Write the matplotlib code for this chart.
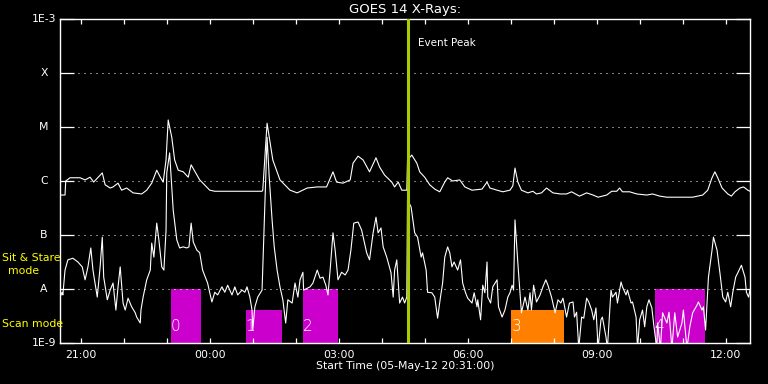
import numpy as np
import matplotlib
matplotlib.use('Agg')
import matplotlib.pyplot as plt
import matplotlib.dates as mdates
from matplotlib.ticker import NullLocator, NullFormatter

# start of the plotted window
start = np.datetime64('2012-05-05T20:31')
end_minutes = 963

# GOES long channel (1-8 A): minutes after start, log10 flux
long_min = [0, 7, 8, 14, 28, 35, 42, 47, 59, 63, 70, 74, 81, 86, 93, 102, 114, 121,
            128, 135, 140, 144, 148, 151, 156, 160, 165, 172, 179, 183, 195, 209, 216,
            251, 282, 283, 289, 297, 307, 321, 331, 345, 359, 372, 381, 386, 395, 405,
            409, 416, 423, 432, 441, 446, 453, 463, 467, 472, 477, 484, 485, 491, 498,
            502, 509, 516, 523, 530, 537, 541, 548, 558, 565, 575, 589, 596, 600, 610,
            618, 628, 632, 635, 639, 644, 653, 660, 665, 672, 679, 688, 698, 707, 714,
            725, 735, 744, 751, 763, 770, 777, 781, 785, 795, 805, 819, 827, 837, 847,
            861, 883, 897, 904, 910, 914, 918, 924, 932, 937, 942, 949, 954, 960, 963]
long_log = [-6.26, -6.26, -6.00, -5.94, -5.94, -5.98, -5.93, -6.02, -5.85, -6.07, -6.13,
            -6.11, -6.04, -6.17, -6.13, -6.22, -6.24, -6.17, -6.04, -5.80, -5.93, -6.02,
            -5.61, -4.87, -5.19, -5.61, -5.80, -5.83, -5.93, -5.70, -5.98, -6.17, -6.19,
            -6.19, -6.19, -6.17, -4.93, -5.61, -5.98, -6.17, -6.22, -6.13, -6.11, -6.11,
            -5.83, -6.02, -6.04, -5.98, -5.67, -5.54, -5.61, -5.83, -5.57, -5.74, -5.89,
            -6.02, -6.11, -6.02, -6.17, -6.17, -5.61, -5.52, -5.67, -5.83, -5.93, -6.07,
            -6.15, -6.20, -6.02, -5.94, -6.00, -5.98, -6.11, -6.17, -6.15, -6.02, -6.13,
            -6.17, -6.20, -6.17, -6.09, -5.76, -6.02, -6.17, -6.22, -6.19, -6.24, -6.22,
            -6.13, -6.22, -6.24, -6.24, -6.20, -6.28, -6.22, -6.26, -6.30, -6.26, -6.19,
            -6.19, -6.13, -6.20, -6.20, -6.24, -6.26, -6.24, -6.28, -6.30, -6.30, -6.30,
            -6.26, -6.17, -5.94, -5.83, -5.94, -6.13, -6.24, -6.28, -6.20, -6.13, -6.11,
            -6.17, -6.19]

# GOES short channel (0.5-4 A): minutes after start, log10 flux
short_min = [0, 3, 4, 7, 11, 18, 25, 31, 35, 39, 43, 46, 52, 56, 59, 61, 66, 70, 74, 78,
             81, 84, 88, 91, 95, 100, 105, 107, 112, 113, 116, 121, 126, 128, 131, 135,
             138, 142, 145, 148, 149, 153, 158, 163, 167, 172, 177, 180, 183, 186, 191,
             195, 199, 206, 209, 212, 216, 220, 226, 230, 234, 240, 244, 248, 254, 258,
             261, 265, 268, 269, 272, 276, 282, 285, 289, 292, 296, 299, 303, 307, 311,
             315, 318, 324, 328, 332, 335, 339, 340, 349, 353, 359, 363, 367, 371, 374,
             377, 381, 384, 388, 393, 398, 402, 406, 410, 416, 421, 425, 428, 432, 437,
             441, 444, 448, 451, 456, 462, 465, 467, 470, 474, 478, 481, 484, 485, 490,
             495, 499, 504, 506, 511, 513, 519, 523, 527, 531, 534, 537, 541, 544, 547,
             550, 555, 559, 562, 566, 569, 575, 578, 582, 583, 587, 590, 593, 596, 597,
             601, 604, 610, 612, 617, 621, 625, 628, 631, 633, 635, 639, 642, 644, 649,
             653, 656, 658, 661, 665, 670, 674, 678, 681, 686, 691, 695, 699, 702, 707,
             711, 716, 718, 721, 724, 728, 731, 735, 738, 742, 745, 748, 751, 755, 757,
             762, 764, 769, 771, 776, 778, 783, 785, 790, 792, 797, 799, 804, 806, 809,
             813, 816, 819, 822, 826, 829, 833, 834, 838, 841, 847, 850, 854, 858, 862,
             868, 870, 875, 879, 883, 889, 891, 896, 898, 901, 903, 905, 910, 912, 917,
             921, 925, 929, 932, 936, 939, 943, 946, 951, 956, 958, 961, 963]
short_log = [-8.15, -8.06, -8.11, -7.65, -7.46, -7.43, -7.50, -7.59, -7.83, -7.59, -7.24,
             -7.65, -8.15, -7.59, -7.04, -7.78, -8.20, -8.02, -7.89, -8.39, -7.96, -7.59,
             -8.26, -8.39, -8.17, -8.33, -8.44, -8.52, -8.63, -8.39, -8.15, -7.83, -7.65,
             -7.15, -7.41, -6.78, -7.09, -7.59, -7.65, -6.91, -5.85, -5.48, -6.54, -7.09,
             -7.24, -7.22, -7.24, -7.22, -6.78, -7.13, -7.28, -7.33, -7.65, -7.89, -8.07,
             -8.24, -8.06, -8.11, -7.96, -8.06, -7.93, -8.11, -7.96, -8.11, -8.02, -8.06,
             -7.96, -8.15, -8.39, -8.76, -8.33, -8.15, -8.02, -6.78, -5.19, -5.93, -6.72,
             -7.22, -7.65, -7.96, -8.20, -8.63, -8.20, -8.26, -7.89, -8.15, -7.83, -7.69,
             -8.02, -7.96, -7.89, -7.65, -7.80, -7.78, -7.93, -8.11, -7.65, -6.96, -7.28,
             -7.83, -7.69, -7.74, -7.65, -7.28, -6.78, -6.76, -6.91, -7.15, -7.33, -7.46,
             -6.96, -6.67, -6.96, -6.87, -7.22, -7.41, -7.70, -8.15, -7.65, -7.46, -8.26,
             -8.15, -8.26, -8.15, -6.35, -6.48, -6.96, -7.04, -7.41, -7.33, -7.65, -8.06,
             -8.07, -8.15, -8.54, -8.15, -7.89, -7.41, -7.22, -7.33, -7.59, -7.50, -7.65,
             -7.46, -7.89, -8.07, -8.17, -8.26, -8.07, -8.33, -8.20, -8.57, -7.93, -8.07,
             -7.50, -8.15, -8.26, -7.96, -7.83, -8.33, -8.52, -8.39, -8.15, -8.07, -7.93,
             -8.02, -6.72, -7.52, -8.07, -8.44, -8.15, -8.39, -8.07, -8.39, -7.93, -8.24,
             -8.11, -7.96, -7.83, -7.93, -8.15, -8.44, -8.20, -8.26, -8.17, -8.52, -8.26,
             -8.24, -8.52, -8.43, -9.10, -8.52, -8.54, -8.17, -8.24, -8.39, -8.57, -8.35,
             -9.10, -8.57, -8.52, -8.89, -9.10, -8.02, -8.15, -8.06, -8.26, -7.87, -7.96,
             -8.11, -8.02, -8.26, -8.24, -8.52, -9.10, -8.57, -8.39, -8.70, -8.33, -8.20,
             -8.35, -8.70, -9.10, -8.63, -9.10, -8.44, -8.63, -8.43, -9.10, -8.44, -8.89,
             -8.63, -8.39, -9.10, -8.70, -8.44, -8.30, -8.24, -8.39, -8.33, -8.76, -8.26,
             -7.78, -7.28, -7.04, -7.28, -7.70, -8.15, -8.24, -8.06, -8.33, -8.06, -7.78,
             -7.70, -7.56, -7.78, -8.06, -8.15, -8.02]

# observation boxes: start/end minutes after start, top flux, colour, label
box_start = [155, 259, 339, 630, 830]
box_end = [197, 310, 388, 703, 900]
box_top = [1e-8, 10**-8.39, 1e-8, 10**-8.39, 1e-8]
box_color = ['#cc00cc', '#cc00cc', '#cc00cc', '#ff8000', '#cc00cc']
box_label = ['0', '1', '2', '3', '4']

event_peak_min = 486

level_vals = [1e-3, 1e-4, 1e-5, 1e-6, 1e-7, 1e-8, 1e-9]
level_labels = ['1E-3', 'X', 'M', 'C', 'B', 'A', '1E-9']


def to_time(minutes):
    return start + np.array(minutes, dtype='timedelta64[m]')


W, H = 768, 384
fig = plt.figure(figsize=(W / 100, H / 100), dpi=100, facecolor='black')
ax = fig.add_axes([60 / W, (H - 343) / H, 690 / W, 324 / H], facecolor='black')

# boxes behind the curves
for s, e, top, c, lab in zip(box_start, box_end, box_top, box_color, box_label):
    t0, t1 = to_time([s, e])
    ax.fill_between([t0, t1], [1e-9, 1e-9], [top, top], color=c, lw=0, zorder=1)
    ax.text(t0, 1.45e-9, lab, color='white', fontsize=11, ha='left',
            va='bottom', zorder=4, fontweight='light')

# dotted level lines
for v in level_vals[1:-1]:
    ax.axhline(v, color='white', lw=0.72, ls=(0, (1, 5)), zorder=2)

ax.plot(to_time(long_min), 10 ** np.array(long_log), color='white', lw=0.8,
        zorder=3)
ax.plot(to_time(short_min), 10 ** np.array(short_log), color='white', lw=0.8,
        zorder=3)

tp = to_time([event_peak_min])[0]
ax.axvline(tp, color='#a8cc00', lw=2.2, zorder=5)
ax.text(to_time([499])[0], 10 ** -3.44, 'Event Peak', color='white',
        fontsize=7.5, ha='left', va='center')

ax.set_yscale('log')
ax.set_ylim(1e-9, 1e-3)
ax.set_xlim(to_time([0])[0], to_time([end_minutes])[0])

ax.set_yticks(level_vals)
ax.yaxis.set_minor_locator(NullLocator())
ax.yaxis.set_major_formatter(NullFormatter())
ax.yaxis.set_minor_formatter(NullFormatter())
ax.tick_params(axis='y', which='major', direction='in', length=10, width=0.9,
               color='white', left=True, right=True)
for v, lab in zip(level_vals, level_labels):
    ax.text(-16 / 690, v, lab, transform=ax.get_yaxis_transform(), color='white',
            fontsize=7.8, ha='center', va='center')

ax.xaxis.set_major_locator(mdates.HourLocator(byhour=[0, 3, 6, 9, 12, 15, 18, 21]))
ax.xaxis.set_minor_locator(mdates.HourLocator())
ax.xaxis.set_major_formatter(mdates.DateFormatter('%H:%M'))
ax.tick_params(axis='x', which='both', direction='in', length=3.6, width=0.9,
               color='white', top=True, bottom=True, labelcolor='white',
               labelsize=7.8, pad=5)

for sp in ax.spines.values():
    sp.set_color('white')
    sp.set_linewidth(1.0)

ax.set_title('GOES 14 X-Rays:', color='white', fontsize=9.5, pad=4)
ax.set_xlabel('Start Time (05-May-12 20:31:00)', color='white', fontsize=7.8,
              labelpad=1)

# yellow mode labels on the left
fig.text(2 / W, 1 - 258 / H, 'Sit & Stare', color='yellow', fontsize=7.8,
         ha='left', va='center')
fig.text(24 / W, 1 - 271 / H, 'mode', color='yellow', fontsize=7.8,
         ha='center', va='center')
fig.text(2 / W, 1 - 324 / H, 'Scan mode', color='yellow', fontsize=7.8,
         ha='left', va='center')

fig.savefig('out.png', dpi=100, facecolor='black')
